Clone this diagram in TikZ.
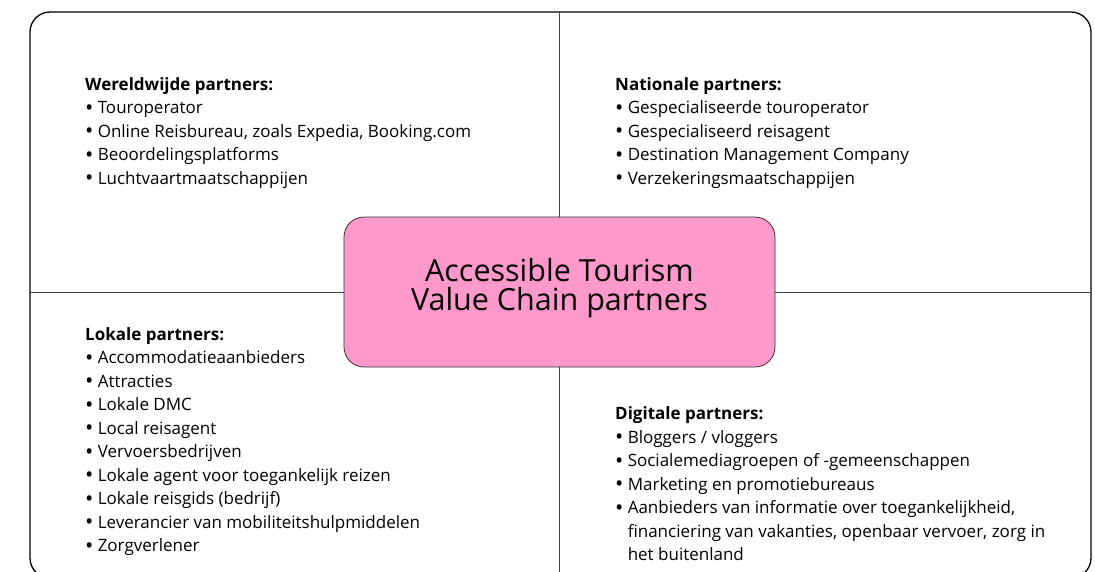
\documentclass[tikz,border=0pt]{standalone}
\usepackage{fontspec}
\setmainfont{Open Sans}
\usepackage{xcolor}
\usepackage{tikz}
\usetikzlibrary{positioning, calc}
\definecolor{chainpink}{HTML}{FF99CC}
\newcommand{\bulletgap}{\raisebox{-0.11em}{\scalebox{1.3}{\textbullet}}\hspace{0.25em}}

\begin{document}
\begin{tikzpicture}[
    x=1pt, y=-1pt,
    frame/.style={rectangle, rounded corners=20pt, draw=black, line width=1.3pt,
                  minimum width=1061pt, minimum height=566pt},
    hub/.style={rectangle, rounded corners=20pt, draw=black!80, fill=chainpink, line width=0.8pt,
                minimum width=431pt, minimum height=150pt, align=center, text depth=16pt,
                font=\fontsize{30.5}{29}\selectfont},
    head/.style={anchor=base west, inner sep=0pt, font=\fontsize{17}{20}\selectfont\bfseries},
    item/.style={anchor=base west, inner sep=0pt, font=\fontsize{17}{20}\selectfont},
    divider/.style={draw=black!75, line width=0.9pt}
]
    % Canvas
    \path[use as bounding box, clip] (0,0) rectangle (1095,571);

    % Outer frame and central box
    \node[frame] (frame) at (560.5,295) {};
    \node[hub] (hub) at (559.5,292) {Accessible Tourism\\Value Chain partners};

    % Dividers between the four quadrants
    \draw[divider] (hub.north) -- (hub.north |- frame.north);
    \draw[divider] (hub.south) -- (hub.south |- frame.south);
    \draw[divider] (hub.west) -- (hub.west -| frame.west);
    \draw[divider] (hub.east) -- (hub.east -| frame.east);

    % Top left: worldwide
    \node[head] (world) at (85,90) {Wereldwijde partners:};
    \foreach \lbl [count=\i] in {Touroperator, {Online Reisbureau, zoals Expedia, Booking.com},
                                  Beoordelingsplatforms, Luchtvaartmaatschappijen}
        \node[item] (world-\i) at (85,90+23.5*\i) {\bulletgap\lbl};

    % Top right: national
    \node[head] (nation) at (615,90) {Nationale partners:};
    \foreach \lbl [count=\i] in {Gespecialiseerde touroperator, Gespecialiseerd reisagent,
                                  Destination Management Company, Verzekeringsmaatschappijen}
        \node[item] (nation-\i) at (615,90+23.5*\i) {\bulletgap\lbl};

    % Bottom left: local
    \node[head] (local) at (85,340) {Lokale partners:};
    \foreach \lbl [count=\i] in {Accommodatieaanbieders, Attracties, Lokale DMC, Local reisagent,
                                  Vervoersbedrijven, Lokale agent voor toegankelijk reizen,
                                  Lokale reisgids (bedrijf), Leverancier van mobiliteitshulpmiddelen,
                                  Zorgverlener}
        \node[item] (local-\i) at (85,340+23.5*\i) {\bulletgap\lbl};

    % Bottom right: digital
    \node[head] (digital) at (615,419.5) {Digitale partners:};
    \foreach \lbl [count=\i] in {Bloggers / vloggers, Socialemediagroepen of -gemeenschappen,
                                  Marketing en promotiebureaus,
                                  {Aanbieders van informatie over toegankelijkheid,}}
        \node[item] (digital-\i) at (615,419.5+23.5*\i) {\bulletgap\lbl};
    \node[item] (digital-5) at (615,537) {\phantom{\bulletgap}financiering van vakanties, openbaar vervoer, zorg in};
    \node[item] (digital-6) at (615,560.5) {\phantom{\bulletgap}het buitenland};
\end{tikzpicture}
\end{document}
